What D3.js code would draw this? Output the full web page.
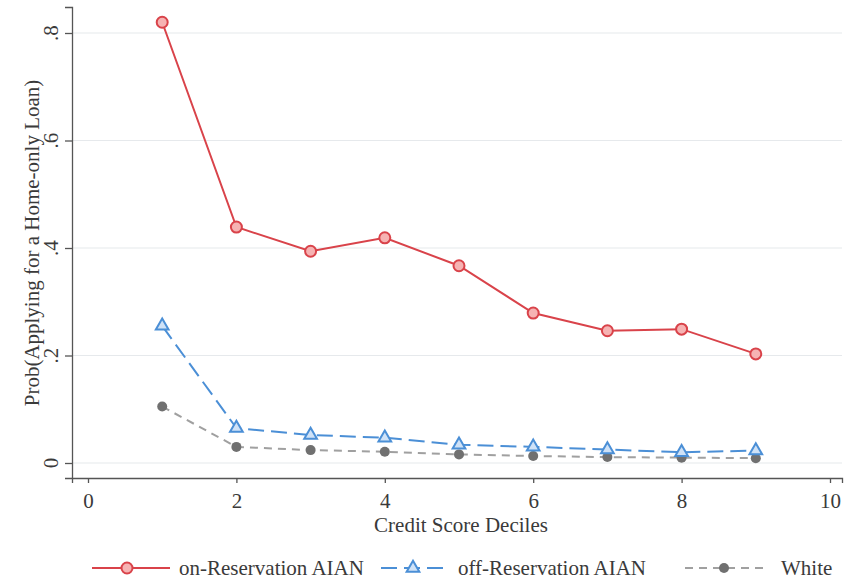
<!DOCTYPE html>
<html><head><meta charset="utf-8">
<script src="https://cdn.jsdelivr.net/npm/d3@7"></script>
<style>body{margin:0;background:#fff;} text{font-family:"Liberation Serif","Times New Roman",serif;fill:#3a3a3a;}</style>
</head><body>
<svg id="c" width="848" height="582"></svg>
<script>
const deciles = [1,2,3,4,5,6,7,8,9];
const onReservation = [0.820,0.439,0.394,0.419,0.367,0.279,0.246,0.249,0.203];
const offReservation = [0.255,0.065,0.052,0.047,0.034,0.030,0.025,0.020,0.023];
const white = [0.105,0.030,0.024,0.021,0.016,0.013,0.011,0.010,0.009];
const yTicks = [0,0.2,0.4,0.6,0.8];
const yTickLabels = ["0",".2",".4",".6",".8"];
const xTicks = [0,2,4,6,8,10];
const seriesNames = ["on-Reservation AIAN","off-Reservation AIAN","White"];

const FS = 21;
const svg = d3.select("#c");
const y = d3.scaleLinear().domain([0,0.8]).range([463,33]);
const x = d3.scaleLinear().domain([0,10]).range([88,830]);
const yAxisScale = y.copy().domain([y.invert(478), y.invert(7)]).range([478,7]);
const xAxisScale = x.copy().domain([x.invert(72), x.invert(842)]).range([72,842]);

// gridlines
svg.append("g").selectAll("line").data(yTicks).join("line")
  .attr("x1",73).attr("x2",842).attr("y1",d=>y(d)).attr("y2",d=>y(d))
  .attr("stroke","#e6e9ec").attr("stroke-width",1.2);

// y axis
const ya = svg.append("g").attr("transform","translate(72,0)")
  .call(d3.axisLeft(yAxisScale).tickValues(yTicks).tickSize(7).tickFormat(""));
ya.selectAll("path,line").attr("stroke","#555").attr("stroke-width",1.3);
svg.append("g").selectAll("text").data(yTicks).join("text")
  .attr("transform",(d)=>`translate(58,${y(d)}) rotate(-90)`)
  .attr("text-anchor","middle").attr("font-size",FS)
  .text((d,i)=>yTickLabels[i]);
svg.append("text").attr("transform","translate(39,243) rotate(-90)")
  .attr("text-anchor","middle").attr("font-size",FS)
  .text("Prob(Applying for a Home-only Loan)");

// x axis
const xa = svg.append("g").attr("transform","translate(0,478)")
  .call(d3.axisBottom(xAxisScale).tickValues(xTicks).tickSize(5).tickFormat(d3.format("d")));
xa.selectAll("path,line").attr("stroke","#555").attr("stroke-width",1.3);
xa.selectAll("text").attr("font-size",FS).attr("y",15).attr("dy","0.71em").style("font-family","Liberation Serif").style("fill","#3a3a3a");
svg.append("text").attr("x",461).attr("y",532).attr("text-anchor","middle").attr("font-size",FS)
  .text("Credit Score Deciles");

const line = d3.line().x((d,i)=>x(deciles[i])).y(d=>y(d));

const redC = "#d9434a", blueC = "#4b8fd6";
// white
svg.append("path").datum(white).attr("d",line).attr("fill","none")
  .attr("stroke","#a0a0a0").attr("stroke-width",2).attr("stroke-dasharray","8,6");
svg.append("g").selectAll("circle").data(white).join("circle")
  .attr("cx",(d,i)=>x(deciles[i])).attr("cy",d=>y(d)).attr("r",5).attr("fill","#707070");
// off
svg.append("path").datum(offReservation).attr("d",line).attr("fill","none")
  .attr("stroke",blueC).attr("stroke-width",2).attr("stroke-dasharray","16,7");
const tri = d3.symbol().type(d3.symbolTriangle).size(70);
svg.append("g").selectAll("path").data(offReservation).join("path")
  .attr("transform",(d,i)=>`translate(${x(deciles[i])},${y(d)})`).attr("d",tri)
  .attr("fill","#cfe2f7").attr("stroke",blueC).attr("stroke-width",2);
// on
svg.append("path").datum(onReservation).attr("d",line).attr("fill","none")
  .attr("stroke",redC).attr("stroke-width",2);
svg.append("g").selectAll("circle").data(onReservation).join("circle")
  .attr("cx",(d,i)=>x(deciles[i])).attr("cy",d=>y(d)).attr("r",5.5)
  .attr("fill","#f6b3b3").attr("stroke",redC).attr("stroke-width",2);

// legend
const lg = svg.append("g");
const ly = 568;
lg.append("line").attr("x1",92).attr("x2",170).attr("y1",ly).attr("y2",ly).attr("stroke",redC).attr("stroke-width",2);
lg.append("circle").attr("cx",127).attr("cy",ly).attr("r",5.5).attr("fill","#f6b3b3").attr("stroke",redC).attr("stroke-width",2);
lg.append("text").attr("x",179).attr("y",ly+7).attr("font-size",FS).text(seriesNames[0]);
lg.append("line").attr("x1",381).attr("x2",450).attr("y1",ly).attr("y2",ly).attr("stroke",blueC).attr("stroke-width",2).attr("stroke-dasharray","16,7");
lg.append("path").attr("transform",`translate(413,${ly})`).attr("d",tri).attr("fill","#cfe2f7").attr("stroke",blueC).attr("stroke-width",2);
lg.append("text").attr("x",458).attr("y",ly+7).attr("font-size",FS).text(seriesNames[1]);
lg.append("line").attr("x1",685).attr("x2",765).attr("y1",ly).attr("y2",ly).attr("stroke","#a0a0a0").attr("stroke-width",2).attr("stroke-dasharray","8,6");
lg.append("circle").attr("cx",724).attr("cy",ly).attr("r",5).attr("fill","#707070");
lg.append("text").attr("x",781).attr("y",ly+7).attr("font-size",FS).text(seriesNames[2]);
</script>
</body></html>
